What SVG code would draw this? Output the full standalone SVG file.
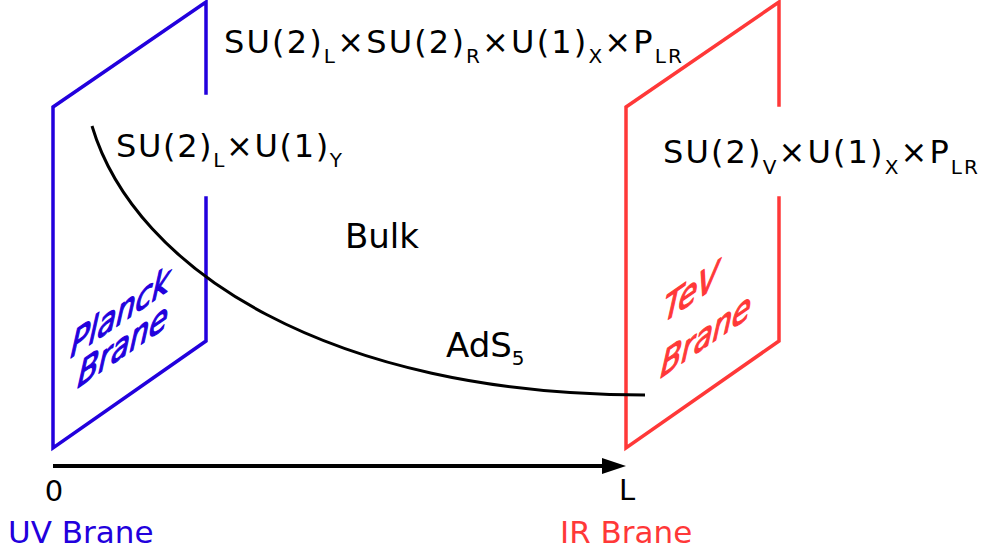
<svg xmlns="http://www.w3.org/2000/svg" width="983" height="554" viewBox="0 0 983 554">
<defs>
<style>
.uv{stroke:#2200dd;stroke-width:3.5;fill:none;stroke-linecap:square}
.ir{stroke:#ff3838;stroke-width:3.5;fill:none;stroke-linecap:square}
.t{font-family:"DejaVu Sans",sans-serif;fill:#000}
.big{font-size:32px}
.sub{font-size:20px}
.brn{font-family:"DejaVu Sans",sans-serif;font-style:oblique;font-size:32px;stroke-width:1.2;stroke-linejoin:round}
.bl{fill:#2200dd;stroke:#2200dd}
.rd{fill:#ff3838;stroke:#ff3838}
</style>
<marker id="ah" viewBox="0 0 24 16" refX="10" refY="8" markerWidth="24" markerHeight="16" markerUnits="userSpaceOnUse" orient="auto">
<path d="M0,0 L24,8 L0,16 z" fill="#000"/>
</marker>
</defs>
<rect width="983" height="554" fill="#fff"/>
<g id="uv-brane">
<polyline class="uv" points="206,93 206,2 53,107 53,448 206,341 206,198"/>
<text class="brn bl" transform="matrix(0.95,-0.655,-0.1,1.15,70,358.5)">Planck</text>
<text class="brn bl" transform="matrix(0.95,-0.655,-0.1,1.15,77,388.5)">Brane</text>
</g>
<g id="ir-brane">
<polyline class="ir" points="779,105 779,2 626,107 626,448 779,341 779,198"/>
<text class="brn rd" transform="matrix(0.95,-0.655,-0.1,1.15,663,323)">TeV</text>
<text class="brn rd" transform="matrix(0.95,-0.655,-0.1,1.15,660,378.5)">Brane</text>
</g>
<g id="labels">
<text class="t big" x="224" y="53" textLength="458">SU(2)<tspan class="sub" dy="10">L</tspan><tspan dy="-10">×SU(2)</tspan><tspan class="sub" dy="10">R</tspan><tspan dy="-10">×U(1)</tspan><tspan class="sub" dy="10">X</tspan><tspan dy="-10">×P</tspan><tspan class="sub" dy="10">LR</tspan></text>
<text class="t big" x="116" y="157" textLength="226">SU(2)<tspan class="sub" dy="10">L</tspan><tspan dy="-10">×U(1)</tspan><tspan class="sub" dy="10">Y</tspan></text>
<text class="t big" x="663" y="163" textLength="315">SU(2)<tspan class="sub" dy="11">V</tspan><tspan dy="-11">×U(1)</tspan><tspan class="sub" dy="11">X</tspan><tspan dy="-11">×P</tspan><tspan class="sub" dy="11">LR</tspan></text>
<text class="t" x="345" y="248" font-size="34">Bulk</text>
<text class="t" x="446" y="357" font-size="34">AdS<tspan class="sub" dy="8">5</tspan></text>
<text class="t" x="54" y="501" font-size="29" text-anchor="middle">0</text>
<text class="t" x="627" y="500" font-size="29" text-anchor="middle">L</text>
<text x="8" y="543" font-family="DejaVu Sans,sans-serif" font-size="31" fill="#2200dd">UV Brane</text>
<text x="560" y="543" font-family="DejaVu Sans,sans-serif" font-size="31" fill="#ff3838">IR Brane</text>
</g>
<g id="connectors">
<path d="M92,126 C135,270 330,395 645,395" fill="none" stroke="#000" stroke-width="3"/>
<line x1="53" y1="466" x2="612" y2="466" stroke="#000" stroke-width="4" marker-end="url(#ah)"/>
</g>
</svg>
